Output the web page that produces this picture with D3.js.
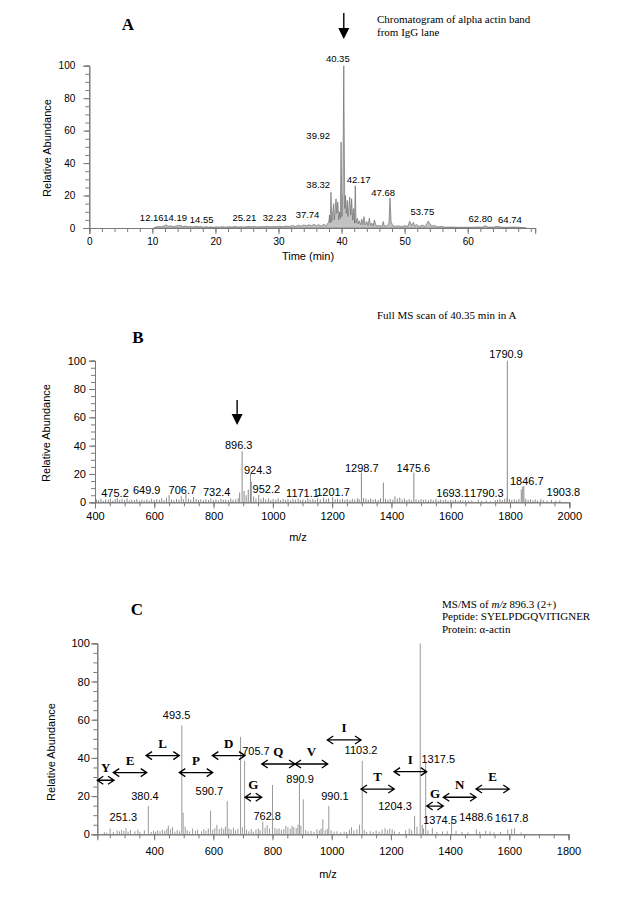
<!DOCTYPE html>
<html><head><meta charset="utf-8">
<script src="https://cdn.jsdelivr.net/npm/d3@7"></script>
<style>body{margin:0;background:#fff}svg{display:block}</style>
</head><body>
<svg id="c" width="621" height="900"></svg>
<script>
// ---------- Panel A: chromatogram ----------
const chromTrace = [[10.2,0],[10.6,0.6],[11.0,0.9],[11.4,0.7],[11.8,1.3],[12.16,1.9],[12.5,1.1],[12.9,1.4],[13.3,0.8],[13.7,1.2],[14.19,1.6],[14.55,1.4],[14.9,0.9],[15.3,1.2],[15.7,0.7],[16.1,1.0],[16.5,0.6],[16.9,1.1],[17.3,0.7],[17.7,0.9],[18.1,0.5],[18.5,0.8],[18.9,0.5],[19.3,0.7],[19.7,0.4],[20.1,0.7],[20.6,0.5],[21.1,0.8],[21.6,0.5],[22.1,0.8],[22.6,0.6],[23.1,0.9],[23.6,0.6],[24.1,0.8],[24.6,0.6],[25.21,1.0],[25.7,0.7],[26.2,0.9],[26.7,0.6],[27.2,0.9],[27.7,0.7],[28.2,1.0],[28.7,0.7],[29.2,1.0],[29.7,0.8],[30.2,1.1],[30.7,0.8],[31.2,1.2],[31.7,0.9],[32.23,1.5],[32.7,1.0],[33.2,1.7],[33.6,1.1],[34.0,1.9],[34.4,1.3],[34.8,2.0],[35.2,1.4],[35.6,2.2],[36.0,1.5],[36.4,2.0],[36.8,1.2],[37.2,2.4],[37.5,1.0],[37.74,2.6],[37.95,3.5],[38.1,8],[38.2,3],[38.32,22],[38.45,4],[38.6,10],[38.75,15],[38.85,5],[39.0,12],[39.12,18],[39.25,9],[39.4,16],[39.55,5],[39.7,10],[39.8,6],[39.92,53],[40.05,7],[40.2,22],[40.35,100],[40.5,12],[40.62,20],[40.75,9],[40.9,17],[41.0,7],[41.15,13],[41.3,19],[41.45,8],[41.6,18],[41.75,5],[41.9,12],[42.05,3],[42.17,26],[42.3,3],[42.5,6],[42.65,2.5],[42.8,4.5],[43.0,2],[43.2,5.5],[43.4,2],[43.55,7],[43.75,2],[44.0,4],[44.2,1.5],[44.4,6],[44.6,1.5],[44.8,3],[45.0,1.2],[45.2,5],[45.5,1.2],[46.0,1.5],[46.4,1],[46.6,4],[46.8,1],[47.2,1.5],[47.5,2.5],[47.68,18.5],[47.85,4],[48.1,1.5],[48.5,1.0],[49.0,1.4],[49.5,0.8],[50.0,1.5],[50.5,1.0],[50.8,4.2],[51.1,1.5],[51.4,3.5],[51.6,1.2],[51.9,2.2],[52.3,0.9],[52.8,1.8],[53.2,1.0],[53.5,2.5],[53.75,4.3],[54.0,2.8],[54.3,1.2],[54.7,1.6],[55.2,0.7],[55.8,0.9],[56.5,0.5],[57.5,0.6],[58.5,0.4],[59.5,0.5],[60.5,0.4],[61.5,0.6],[62.3,0.5],[62.8,1.4],[63.2,0.6],[64.0,0.5],[64.74,1.1],[65.3,0.5],[66.2,0.4],[67.2,0.6],[68.2,0.4],[69.3,0]];
const aLabelText = ["12.16","14.19","14.55","25.21","32.23","37.74","38.32","39.92","40.35","42.17","47.68","53.75","62.80","64.74"];
const aLabelTime = [9.9,13.6,17.8,24.6,29.4,34.6,36.3,36.3,39.4,42.7,46.6,52.8,62.0,66.7];
const aLabelAbund = [4.3,4.6,3,4.3,4.3,6,24.7,55,102,27.8,20,8,3.7,3];
const aTickLabels = [0,10,20,30,40,50,60];

// ---------- Panel B: full MS scan ----------
const bMz = [405,412,420,428,436,445,452,460,468,475.2,483,491,500,508,516,524,533,541,550,558,566,575,583,591,600,608,617,625,633,641,649.9,658,666,675,683,691,698,706.7,715,723,732.4,741,749,757,766,774,783,791,800,808,816,825,833,841,850,858,866,875,883,888,896.3,903,910,917,924.3,927,935,943,952.2,960,968,976,985,993,1001,1010,1018,1026,1035,1043,1051,1060,1068,1076,1085,1093,1101,1110,1118,1126,1135,1143,1151,1160,1171.1,1180,1188,1201.7,1210,1218,1226,1235,1243,1251,1260,1268,1276,1285,1291,1298.7,1306,1314,1322,1330,1338,1346,1355,1363,1372.7,1380,1388,1396,1405,1412,1420,1428,1436,1444,1452,1460,1468,1475.6,1483,1492,1500,1508,1516,1525,1533,1541,1550,1558,1566,1575,1583,1591,1600,1608,1616,1625,1633,1641,1650,1660,1671,1693.1,1705,1720,1734,1750,1758,1766,1774,1782,1790.3,1790.9,1798,1806,1814,1822,1830,1838,1843,1846.7,1853,1861,1869,1877,1885,1893,1903.8,1912,1925,1940,1955,1968];
const bAbund = [2,1.5,2.5,1,2,1.8,2.6,1.2,2.2,3,1.5,2.4,1.7,2.8,1.3,2,1.6,2.3,1.1,1.9,1.4,2.1,1.2,2.5,1.6,2.2,1.8,2.9,1.5,3.2,5,2.1,1.4,2.4,1.9,4.2,2.2,6,2.6,1.8,3.8,2.4,1.7,2.1,1.4,2.3,1.6,2.6,1.5,2.1,1.3,2.4,1.7,2,1.5,2.6,1.8,2.2,2.9,7,36,8,5,9,20,14.5,4,2.6,5,2.3,3.4,2,2.8,1.6,2.4,1.8,2.7,1.5,2.3,1.7,2.5,1.4,2.2,1.8,2.6,1.6,2.1,1.5,2.8,1.9,2.4,1.6,2.9,2,3.2,2.2,2.7,3.6,2.1,2.6,1.8,2.4,1.7,2.2,1.5,2.5,1.9,2.8,2.2,21,3,2.4,1.7,2.6,1.9,2.3,1.6,2.8,14,2.5,1.7,2.3,1.8,4.2,2.6,3.4,2,2.7,1.6,2.2,1.4,21,2.1,1.5,2.3,1.7,2,1.3,2.2,1.5,2.4,1.2,1.8,1.4,2,1.1,1.7,1.2,1.9,1,1.6,1.2,1.5,1,1.4,1.8,1,1.2,0.8,1.5,1.8,2.3,1.7,2.4,3,100,2.2,1.6,2.1,1.4,2.3,9,11,11.5,2.6,1.8,2.2,1.4,2,1.2,2.4,1.5,1.1,1.6,1,1.4];
const bLabelText = ["475.2","649.9","706.7","732.4","896.3","924.3","952.2","1171.1","1201.7","1298.7","1475.6","1693.1","1790.3","1790.9","1846.7","1903.8"];
const bLabelMz = [467.5,574.4,694.5,810.6,884.8,949,978,1100,1203,1300,1474,1608,1722,1786.6,1856.5,1980];
const bLabelAbund = [4,5.9,5.9,4.8,37.6,20,6.6,4,4.8,21.7,21.7,3.7,3.7,102,12.2,4.8];
const bTickLabels = [400,600,800,1000,1200,1400,1600,1800,2000];

// ---------- Panel C: MS/MS ----------
const cMz = [232,240,251.3,262,275,283,290,298,305,312,320,335,345,352,367,380.4,390,398,405,412,420,428,436,443,448,455,462,470,478,486,493.5,498,505,512,520,530,540,547,560,568,575,583,590.7,598,605,612,620,628,635,641,647,653,660,668,675,683,692,698,705.7,712,720,728,735,744,752,758,767,775,782,790,800,808,815,822,830,838,845,852,860,866,872,880,886,890.9,896,904,912,920,930,940,950,958,964,970,978,985,990.1,998,1008,1018,1030,1042,1050,1060,1067,1075,1085,1094,1103.2,1110,1118,1130,1140,1150,1160,1170,1180,1188,1196,1204.3,1212,1228,1250,1262,1270,1280,1288,1299,1306,1310,1317.5,1325,1340,1355,1374.5,1390,1405,1420,1440,1460,1488.6,1500,1520,1535,1548,1570,1595,1608,1617.8,1640];
const cAbund = [1,0.8,3,1.2,2,1.5,2.4,1.8,3.2,1.4,2.2,1.6,2.5,1.3,2.1,14.8,1.2,1.8,1.4,2.2,1.6,2.4,1.8,2.9,4.5,2.6,3.8,1.4,2.2,1.6,57,11.3,4,2.1,1.5,3,1.8,2.4,1.6,2.6,1.9,3,12.4,2.4,3.2,5,2.8,3.5,2.6,4,17.4,3,2.6,3.4,2.1,2.8,51,3.6,38.4,2.4,1.6,2.8,1.4,2.5,3,2.2,6.6,3.4,4.8,3,25.8,3.4,2.6,3.2,2.4,2.8,4.4,3.6,3,4.5,3.8,3.2,5,27,4.6,18.3,2.2,1.5,1.8,1.2,2.6,2,3,7.8,2.2,2.8,14.8,2.1,1.4,1.6,1,1.4,1.2,2.4,3.7,2,2.6,5,38.5,2.2,1.3,1.6,1.2,2,1.4,2.4,3.2,2.2,3,2.5,1.6,1.2,2.2,3,2.2,9.6,4,100,5,3,37.5,2,3.4,1.2,1.5,1.6,7.5,1.8,1.2,1,2.6,1.4,1.8,1.5,1,1.2,2.4,2.8,3.2,1];
const cLabelText = ["251.3","380.4","493.5","590.7","705.7","762.8","890.9","990.1","1103.2","1204.3","1317.5","1374.5","1488.6","1617.8"];
const cLabelMz = [296,369,476,586.5,744,782,893,1011,1099,1214,1360,1366,1487.5,1608];
const cLabelAbund = [7,18.2,60.4,20.6,41.5,7.7,26.9,17.7,41.8,12.7,37.3,5.4,7.2,6.2];
const seqLetters = ["Y","E","L","P","D","G","Q","V","I","T","I","G","N","E"];
const seqFrom = [208,262,372.6,485,596.6,707,763.5,876,985,1099,1210.5,1321,1377,1487.5];
const seqTo = [264.5,375,485,598,707,763.5,876,986.5,1099,1211.5,1321,1377,1487.5,1600];
const seqLevel = [28.3,32.3,41.2,32.3,41.2,19.4,36.8,36.8,49.4,23.7,32.8,14.8,19.4,23.7];
const cTickLabels = [400,600,800,1000,1200,1400,1600,1800];
const yTickLabels = [0,20,40,60,80,100];

// ---------- drawing ----------
const svg = d3.select("#c");
const SANS = "'Liberation Sans', Arial, sans-serif";
const SERIF = "'Liberation Serif', 'Times New Roman', serif";
const AXIS = "#7a7a7a";

function drawAxes(g, x, y, xMinor, xMajor, yPad, xFont, yFont, xPad) {
  const y0 = y.range()[0], x0 = x.range()[0];
  g.append("g").attr("transform", `translate(0,${y0})`)
    .call(d3.axisBottom(x).tickValues(xMinor).tickSize(4).tickFormat(""))
    .call(s => { s.selectAll("path,line").attr("stroke", AXIS); });
  g.append("g").attr("transform", `translate(0,${y0})`)
    .call(d3.axisBottom(x).tickValues(xMajor).tickSize(6).tickPadding(xPad).tickFormat(d3.format("d")))
    .call(s => { s.selectAll("path,line").attr("stroke", AXIS);
      s.selectAll("text").attr("font-family", SANS).attr("font-size", xFont).attr("fill", "#000"); });
  g.append("g").attr("transform", `translate(${x0},0)`)
    .call(d3.axisLeft(y).tickValues(d3.range(0, 101, 5)).tickSize(4).tickFormat(""))
    .call(s => s.selectAll("path,line").attr("stroke", AXIS));
  g.append("g").attr("transform", `translate(${x0},0)`)
    .call(d3.axisLeft(y).tickValues(yTickLabels).tickSize(6).tickPadding(yPad))
    .call(s => { s.selectAll("path,line").attr("stroke", AXIS);
      s.selectAll("text").attr("font-family", SANS).attr("font-size", yFont).attr("fill", "#000"); });
}
function yTitle(x, y) {
  svg.append("text").attr("transform", `translate(${x},${y}) rotate(-90)`)
    .attr("text-anchor", "middle").attr("font-family", SANS).attr("font-size", 11).text("Relative Abundance");
}
function panelLetter(t, x, y) {
  svg.append("text").attr("x", x).attr("y", y).attr("text-anchor", "middle")
    .attr("font-family", SERIF).attr("font-weight", "bold").attr("font-size", 17).text(t);
}
function downArrow(x, yTop, yTip) {
  svg.append("line").attr("x1", x).attr("x2", x).attr("y1", yTop).attr("y2", yTip - 6)
    .attr("stroke", "#000").attr("stroke-width", 1.4);
  svg.append("path").attr("d", `M${x - 5.5},${yTip - 11} L${x + 5.5},${yTip - 11} L${x},${yTip} Z`).attr("fill", "#000");
}

// Panel A
const xA = d3.scaleLinear().domain([0, 70.7]).range([89.3, 535.2]);
const yA = d3.scaleLinear().domain([0, 100]).range([228, 65.7]);
const gA = svg.append("g");
gA.append("path").datum(chromTrace)
  .attr("d", d3.area().x(d => xA(d[0])).y0(yA(0)).y1(d => yA(d[1])))
  .attr("fill", "#c2c2c2").attr("stroke", "#5e5e5e").attr("stroke-width", 0.6);
drawAxes(gA, xA, yA, d3.range(0, 71, 2), aTickLabels, 8, 10, 10, 4);
gA.selectAll(".plA").data(aLabelText).join("text")
  .attr("x", (d, i) => xA(aLabelTime[i])).attr("y", (d, i) => yA(aLabelAbund[i]))
  .attr("text-anchor", "middle").attr("font-family", SANS).attr("font-size", 9.5).text(d => d);
yTitle(51, 148);
svg.append("text").attr("x", 308).attr("y", 260).attr("text-anchor", "middle")
  .attr("font-family", SANS).attr("font-size", 11).text("Time (min)");
panelLetter("A", 128, 30);
downArrow(xA(40.35), 13, 39);
svg.append("text").attr("x", 377).attr("y", 22.5).attr("font-family", SERIF).attr("font-size", 11)
  .text("Chromatogram of alpha actin band");
svg.append("text").attr("x", 377).attr("y", 36).attr("font-family", SERIF).attr("font-size", 11)
  .text("from IgG lane");

// Panel B
const xB = d3.scaleLinear().domain([400, 2000]).range([95, 569.3]);
const yB = d3.scaleLinear().domain([0, 100]).range([502.3, 360.7]);
const gB = svg.append("g");
gB.selectAll(".stB").data(bMz).join("line")
  .attr("x1", d => xB(d)).attr("x2", d => xB(d))
  .attr("y1", yB(0)).attr("y2", (d, i) => yB(bAbund[i]))
  .attr("stroke", "#8a8a8a").attr("stroke-width", 1);
drawAxes(gB, xB, yB, d3.range(400, 2001, 50), bTickLabels, 3, 11, 11, 4);
gB.selectAll(".plB").data(bLabelText).join("text")
  .attr("x", (d, i) => xB(bLabelMz[i])).attr("y", (d, i) => yB(bLabelAbund[i]))
  .attr("text-anchor", "middle").attr("font-family", SANS).attr("font-size", 11).text(d => d);
yTitle(50, 433);
svg.append("text").attr("x", 298).attr("y", 541).attr("text-anchor", "middle")
  .attr("font-family", SANS).attr("font-size", 11).text("m/z");
panelLetter("B", 138, 343);
downArrow(xB(896.3) - 5, 400, 425);
svg.append("text").attr("x", 377).attr("y", 318.5).attr("font-family", SERIF).attr("font-size", 11)
  .text("Full MS scan of 40.35 min in A");

// Panel C
const xC = d3.scaleLinear().domain([208, 1800]).range([97.3, 568.5]);
const yC = d3.scaleLinear().domain([0, 100]).range([834.3, 643.3]);
const gC = svg.append("g");
gC.selectAll(".stC").data(cMz).join("line")
  .attr("x1", d => xC(d)).attr("x2", d => xC(d))
  .attr("y1", yC(0)).attr("y2", (d, i) => yC(cAbund[i]))
  .attr("stroke", "#9a9a9a").attr("stroke-width", 1);
drawAxes(gC, xC, yC, d3.range(250, 1801, 50), cTickLabels, 1.5, 11, 11, 7);
gC.selectAll(".plC").data(cLabelText).join("text")
  .attr("x", (d, i) => xC(cLabelMz[i])).attr("y", (d, i) => yC(cLabelAbund[i]))
  .attr("text-anchor", "middle").attr("font-family", SANS).attr("font-size", 11).text(d => d);
const seqG = gC.append("g");
seqLetters.forEach((L, i) => {
  const x1 = xC(seqFrom[i]), x2 = xC(seqTo[i]), yy = yC(seqLevel[i]);
  seqG.append("path")
    .attr("d", `M${x1},${yy} L${x2},${yy} M${x1 + 6},${yy - 4} L${x1},${yy} L${x1 + 6},${yy + 4} M${x2 - 6},${yy - 4} L${x2},${yy} L${x2 - 6},${yy + 4}`)
    .attr("fill", "none").attr("stroke", "#000").attr("stroke-width", 1.3);
  seqG.append("text").attr("x", (x1 + x2) / 2).attr("y", yy - 8).attr("text-anchor", "middle")
    .attr("font-family", SERIF).attr("font-weight", "bold").attr("font-size", 13).text(L);
});
yTitle(55, 752);
svg.append("text").attr("x", 328).attr("y", 878).attr("text-anchor", "middle")
  .attr("font-family", SANS).attr("font-size", 11).text("m/z");
panelLetter("C", 137, 615);
const ann = svg.append("text").attr("font-family", SERIF).attr("font-size", 11);
const l1 = ann.append("tspan").attr("x", 442).attr("y", 607.5);
l1.append("tspan").text("MS/MS of ");
l1.append("tspan").attr("font-style", "italic").text("m/z");
l1.append("tspan").text(" 896.3 (2+)");
ann.append("tspan").attr("x", 442).attr("y", 620).text("Peptide: SYELPDGQVITIGNER");
ann.append("tspan").attr("x", 442).attr("y", 632.5).text("Protein: α-actin");
</script>
</body></html>
